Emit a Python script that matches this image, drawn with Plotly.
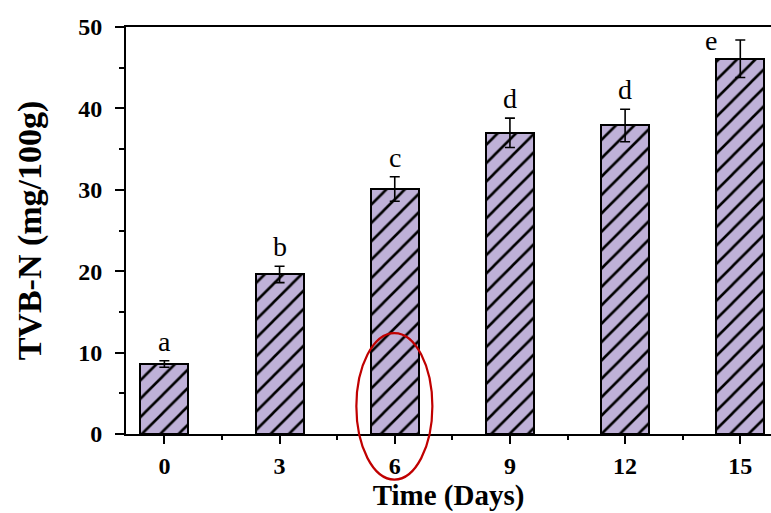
import plotly.graph_objects as go

# Storage time (days) and total volatile basic nitrogen
days = [0, 3, 6, 9, 12, 15]
tvbn = [8.6, 19.6, 30.1, 37.0, 37.9, 46.1]
tvbn_sd = [0.4, 1.0, 1.5, 1.8, 2.0, 2.3]
sig_letters = ["a", "b", "c", "d", "d", "e"]
highlight_day = 6

x_range = [-1, 15.8]
y_range = [0, 50]

serif = "Liberation Serif, Times New Roman, serif"

fig = go.Figure()
fig.add_trace(go.Bar(
    x=days,
    y=tvbn,
    width=1.25,
    marker=dict(
        color="#BFB1D8",
        line=dict(color="black", width=2),
        pattern=dict(shape="/", fgcolor="black", fgopacity=1,
                     size=13, solidity=0.2),
    ),
    error_y=dict(type="data", array=tvbn_sd, visible=True,
                 color="black", thickness=1.6, width=5),
    showlegend=False,
))

# Significance letters above each bar
for i, (d, v, s, lab) in enumerate(zip(days, tvbn, tvbn_sd, sig_letters)):
    last = i == len(days) - 1
    fig.add_annotation(
        x=d, y=v + s, text=lab, showarrow=False,
        yanchor="bottom", xanchor="center",
        xshift=-29 if last else 0,
        yshift=-18 if last else 2,
        font=dict(family=serif, size=28, color="black"),
    )

# Red ellipse around the day-6 bar
def xp(v):
    return (v - x_range[0]) / (x_range[1] - x_range[0])

def yp(v):
    return (v - y_range[0]) / (y_range[1] - y_range[0])

fig.add_shape(
    type="circle", xref="paper", yref="paper",
    x0=xp(highlight_day - 1.0), x1=xp(highlight_day + 0.98),
    y0=yp(-5.6), y1=yp(12.4),
    line=dict(color="#C00000", width=2.2),
    fillcolor="rgba(0,0,0,0)",
)

fig.update_layout(
    width=771, height=513,
    margin=dict(l=126, r=0, t=27, b=79),
    paper_bgcolor="white", plot_bgcolor="white",
    bargap=0,
    font=dict(family=serif, color="black"),
)

fig.update_xaxes(
    range=x_range,
    tickvals=days, ticktext=[str(d) for d in days],
    ticks="outside", ticklen=8, tickwidth=2, tickcolor="black",
    minor=dict(ticks="outside", ticklen=4, tickwidth=2, tickcolor="black",
               dtick=1.5, tick0=0),
    showline=True, linewidth=2, linecolor="black", mirror=True,
    showgrid=False, zeroline=False,
    tickfont=dict(family=serif, size=24, color="black", weight="bold"),
    ticklabelstandoff=1,
    title=dict(text="<b>Time (Days)</b>", standoff=6,
               font=dict(family=serif, size=29, color="black")),
)

fig.update_yaxes(
    range=y_range,
    tickvals=[0, 10, 20, 30, 40, 50],
    ticks="outside", ticklen=9, tickwidth=2, tickcolor="black",
    minor=dict(ticks="outside", ticklen=5, tickwidth=2, tickcolor="black",
               dtick=5, tick0=0),
    showline=True, linewidth=2, linecolor="black", mirror=False,
    showgrid=False, zeroline=False,
    tickfont=dict(family=serif, size=24, color="black", weight="bold"),
    ticklabelstandoff=8,
    title=dict(text="<b>TVB-N (mg/100g)</b>", standoff=26,
               font=dict(family=serif, size=34, color="black")),
)

fig.write_html("out.html")
